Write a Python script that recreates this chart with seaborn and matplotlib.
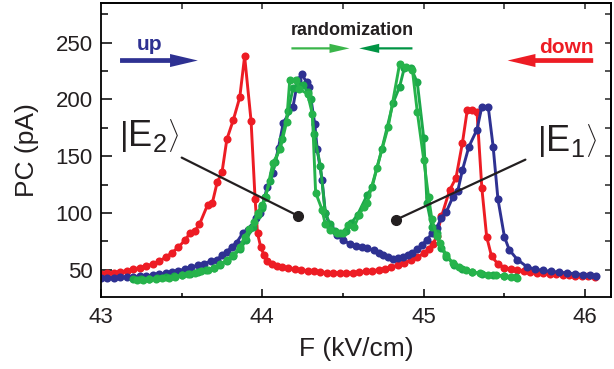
import numpy as np
import pandas as pd
import matplotlib
matplotlib.use("Agg")
import matplotlib.pyplot as plt
import seaborn as sns

# ---------------- data ----------------
red_F = [43.00, 43.04, 43.08, 43.12, 43.16, 43.20, 43.24, 43.28, 43.32, 43.36, 43.40, 43.44,
         43.48, 43.52, 43.55, 43.58, 43.61, 43.66, 43.69, 43.72, 43.75, 43.78, 43.82, 43.86,
         43.89, 43.93, 43.955, 43.97, 43.99, 44.01, 44.03, 44.06, 44.09, 44.12, 44.16, 44.20,
         44.24, 44.28, 44.32, 44.36, 44.40, 44.44, 44.48, 44.52, 44.56, 44.60, 44.64, 44.68,
         44.72, 44.76, 44.80, 44.84, 44.88, 44.92, 44.96, 45.00, 45.03, 45.06, 45.08, 45.11,
         45.16, 45.20, 45.24, 45.27, 45.30, 45.33, 45.36, 45.39, 45.42, 45.46, 45.50, 45.54,
         45.58, 45.62, 45.66, 45.70, 45.74, 45.78, 45.82, 45.86, 45.90, 45.94, 45.98, 46.02, 46.06]
red_PC = [46.0, 46.8, 47.5, 48.3, 49.2, 50.5, 52.0, 53.5, 55.0, 57.5, 61.0, 65.0,
          70.0, 76.0, 82.0, 84.0, 90.0, 107.0, 109.0, 127.0, 136.0, 165.0, 182.0, 202.0,
          238.0, 181.0, 112.0, 82.0, 70.0, 63.0, 58.0, 55.0, 53.5, 52.5, 51.5, 50.5,
          49.8, 49.2, 48.6, 48.0, 47.6, 47.4, 47.3, 47.4, 47.6, 48.0, 48.5, 49.2,
          50.0, 51.0, 52.5, 54.0, 56.0, 58.5, 61.0, 64.5, 68.0, 73.0, 80.0, 97.0,
          120.0, 131.0, 162.0, 191.0, 191.0, 189.0, 122.0, 79.0, 62.0, 55.0, 52.0, 50.5,
          49.5, 48.8, 48.2, 47.6, 47.0, 46.5, 46.0, 45.6, 45.2, 44.8, 44.5, 44.2, 44.0]

blue_F = [43.00, 43.04, 43.08, 43.12, 43.16, 43.20, 43.24, 43.28, 43.32, 43.36, 43.40, 43.44,
          43.48, 43.52, 43.56, 43.60, 43.64, 43.68, 43.72, 43.75, 43.78, 43.81, 43.84, 43.88,
          43.91, 43.935, 43.96, 43.985, 44.00, 44.03, 44.065, 44.10, 44.13, 44.19, 44.22, 44.245,
          44.275, 44.29, 44.325, 44.34, 44.37, 44.39, 44.42, 44.46, 44.50, 44.54, 44.58, 44.62,
          44.65, 44.69, 44.72, 44.75, 44.78, 44.81, 44.84, 44.87, 44.90, 44.93, 44.96, 44.99,
          45.02, 45.05, 45.08, 45.11, 45.14, 45.18, 45.21, 45.24, 45.28, 45.33, 45.36, 45.40,
          45.43, 45.46, 45.50, 45.53, 45.58, 45.64, 45.69, 45.74, 45.79, 45.84, 45.89, 45.94,
          45.99, 46.03, 46.07]
blue_PC = [43.0, 43.0, 43.1, 43.3, 43.5, 43.8, 44.2, 44.6, 45.2, 46.0, 47.0, 48.0,
           49.3, 50.5, 52.2, 54.0, 55.5, 57.5, 59.0, 63.0, 66.0, 70.0, 74.0, 82.6,
           85.0, 88.0, 96.0, 100.0, 106.0, 123.0, 135.5, 157.6, 179.6, 193.7, 217.5, 222.0,
           215.0, 211.0, 178.0, 156.0, 129.0, 100.0, 88.0, 81.0, 76.0, 73.0, 71.0, 70.0,
           69.0, 67.0, 65.0, 63.0, 61.0, 59.5, 60.0, 61.5, 63.0, 65.0, 68.0, 72.0,
           76.5, 82.0, 87.0, 96.0, 101.0, 114.0, 119.0, 138.0, 158.5, 173.5, 193.7, 193.0,
           158.5, 112.0, 79.0, 67.6, 59.0, 52.6, 50.5, 49.5, 48.5, 47.8, 47.2, 46.5,
           45.8, 45.2, 44.7]

greenA_F = [43.22, 43.26, 43.30, 43.34, 43.38, 43.42, 43.46, 43.50, 43.54, 43.58, 43.62, 43.66,
            43.70, 43.74, 43.78, 43.82, 43.86, 43.89, 43.92, 43.95, 43.97, 44.00, 44.02, 44.065,
            44.11, 44.15, 44.17, 44.21, 44.23, 44.28, 44.31, 44.33, 44.37, 44.39, 44.42, 44.46,
            44.50, 44.53, 44.57, 44.60, 44.63, 44.65, 44.71, 44.78, 44.85, 44.89, 44.93, 44.96,
            45.00, 45.03, 45.05, 45.08, 45.10, 45.14, 45.18, 45.22, 45.26, 45.30, 45.35, 45.40,
            45.45, 45.50, 45.54, 45.58]
greenA_PC = [41.0, 41.3, 41.7, 42.1, 42.6, 43.2, 44.0, 45.0, 46.0, 47.2, 48.5, 50.0,
             52.0, 55.0, 58.5, 63.0, 70.0, 79.0, 86.0, 92.0, 100.0, 107.0, 114.0, 144.0,
             156.0, 180.0, 217.5, 217.5, 209.0, 205.0, 187.0, 118.0, 103.0, 90.0, 85.0, 82.6,
             82.6, 89.7, 88.0, 98.5, 105.5, 109.0, 140.0, 176.0, 231.0, 229.0, 226.0, 189.0,
             147.0, 114.0, 95.0, 80.0, 73.8, 63.0, 56.0, 52.5, 50.0, 48.0, 46.8, 45.8,
             45.0, 44.2, 43.6, 43.0]

greenB_F = [43.20, 43.25, 43.30, 43.35, 43.40, 43.45, 43.50, 43.55, 43.60, 43.65, 43.70, 43.74,
            43.78, 43.82, 43.86, 43.90, 43.94, 43.97, 44.00, 44.015, 44.05, 44.08, 44.12, 44.16,
            44.19, 44.22, 44.25, 44.28, 44.30, 44.32, 44.36, 44.39, 44.42, 44.45, 44.48, 44.52,
            44.55, 44.59, 44.65, 44.68, 44.74, 44.81, 44.85, 44.88, 44.92, 44.96, 45.00, 45.02,
            45.05, 45.08, 45.11, 45.14, 45.19, 45.24, 45.30, 45.36, 45.43, 45.50, 45.57]
greenB_PC = [41.5, 41.8, 42.2, 42.7, 43.3, 44.2, 45.2, 46.5, 48.0, 49.8, 52.0, 54.5,
             58.0, 62.0, 68.0, 76.0, 88.0, 98.0, 104.0, 114.0, 128.0, 145.0, 165.0, 190.0,
             210.0, 213.0, 213.0, 207.0, 200.0, 170.0, 141.0, 100.0, 90.0, 84.0, 82.6, 84.0,
             91.0, 98.5, 116.0, 123.0, 156.0, 197.0, 211.0, 228.0, 228.0, 215.0, 166.0, 109.0,
             88.0, 82.6, 69.4, 61.5, 54.4, 50.5, 48.0, 46.5, 45.6, 44.6, 43.8]

x_major = [43, 44, 45, 46]
y_major = [50, 100, 150, 200, 250]

# ---------------- style ----------------
sns.set_theme(style="ticks")
plt.rcParams['font.family'] = ['Liberation Sans', 'DejaVu Sans']
plt.rcParams['mathtext.fontset'] = 'custom'
plt.rcParams['mathtext.rm'] = 'Liberation Sans'
plt.rcParams['mathtext.it'] = 'Liberation Sans:italic'

RED = '#ed1c24'
BLUE = '#2e3192'
GREEN_A = '#26b34b'
GREEN_B = '#1ca84a'
TXT = '#231f20'

fig = plt.figure(figsize=(6.14, 3.69), dpi=100)
ax = fig.add_axes([0.1645, 0.195, 0.8305, 0.797])

series = [("red", red_F, red_PC, RED),
          ("blue", blue_F, blue_PC, BLUE),
          ("greenB", greenB_F, greenB_PC, GREEN_B),
          ("greenA", greenA_F, greenA_PC, GREEN_A)]
for name, F, PC, col in series:
    df = pd.DataFrame({"F": F, "PC": PC})
    sns.lineplot(data=df, x="F", y="PC", ax=ax, sort=False, estimator=None,
                 color=col, lw=2.1, marker='o', markersize=5.8, markeredgewidth=0,
                 legend=False)

ax.set_xlim(43.0, 46.16)
ax.set_ylim(26, 285)
ax.set_xticks(x_major)
ax.set_xticks([43.5, 44.5, 45.5], minor=True)
ax.set_yticks(y_major)
ax.set_yticks([75, 125, 175, 225, 275], minor=True)
ax.tick_params(axis='both', which='both', direction='in', colors='black',
               labelcolor=TXT, labelsize=16, width=1.1)
ax.tick_params(axis='x', which='major', length=6, pad=7)
ax.tick_params(axis='x', which='minor', length=3)
ax.tick_params(axis='y', which='major', length=8, pad=6)
ax.tick_params(axis='y', which='minor', length=5)
for s in ax.spines.values():
    s.set_linewidth(1.3)
    s.set_color('black')
    s.set_visible(True)

secx = ax.secondary_xaxis('top')
secx.set_xticks([43.5, 44, 44.5, 45, 45.5, 46])
secx.tick_params(direction='in', length=4, width=1.1, labeltop=False)
secx.spines['top'].set_linewidth(1.3)
secy = ax.secondary_yaxis('right')
secy.set_yticks([50, 75, 100, 125, 150, 175, 200, 225, 250, 275])
secy.tick_params(direction='in', length=4, width=1.1, labelright=False)
secy.spines['right'].set_linewidth(1.3)

ax.set_xlabel("F (kV/cm)", fontsize=19, color=TXT, labelpad=7)
ax.set_ylabel("PC (pA)", fontsize=19, color=TXT, labelpad=12)

# ---------------- annotations ----------------
def arrow(x0, x1, y, col, ms, hl, hw, tw):
    ax.annotate('', xy=(x1, y), xytext=(x0, y),
                arrowprops=dict(arrowstyle=f"simple,head_length={hl},head_width={hw},tail_width={tw}",
                                color=col, lw=0, shrinkA=0, shrinkB=0, mutation_scale=ms))

arrow(43.118, 43.60, 234.3, BLUE, 20, 1.0, 0.47, 0.17)
arrow(46.05, 45.52, 234.3, RED, 20, 1.0, 0.47, 0.17)
arrow(44.18, 44.54, 245.0, '#3ab54a', 20, 0.72, 0.33, 0.08)
arrow(44.93, 44.60, 245.0, '#009444', 20, 0.72, 0.33, 0.08)

ax.text(43.30, 248.5, "up", color=BLUE, fontsize=15, fontweight='bold', ha='center', va='center')
ax.text(45.885, 245.5, "down", color=RED, fontsize=15, fontweight='bold', ha='center', va='center')
ax.text(44.555, 260.5, "randomization", color=TXT, fontsize=13, fontweight='bold',
        ha='center', va='center')

ax.text(43.30, 168, r"$\left|\mathrm{E}_{2}\right\rangle$", color=TXT, fontsize=26,
        ha='center', va='center')
ax.text(45.89, 164, r"$\left|\mathrm{E}_{1}\right\rangle$", color=TXT, fontsize=26,
        ha='center', va='center')

ax.plot([43.50, 44.22], [148.8, 97.6], color=TXT, lw=1.6)
ax.plot([44.22], [97.6], 'o', color=TXT, ms=7)
ax.plot([45.63, 44.827], [147, 94], color=TXT, lw=1.6)
ax.plot([44.827], [94], 'o', color=TXT, ms=7)

fig.savefig("out.png", dpi=100)
